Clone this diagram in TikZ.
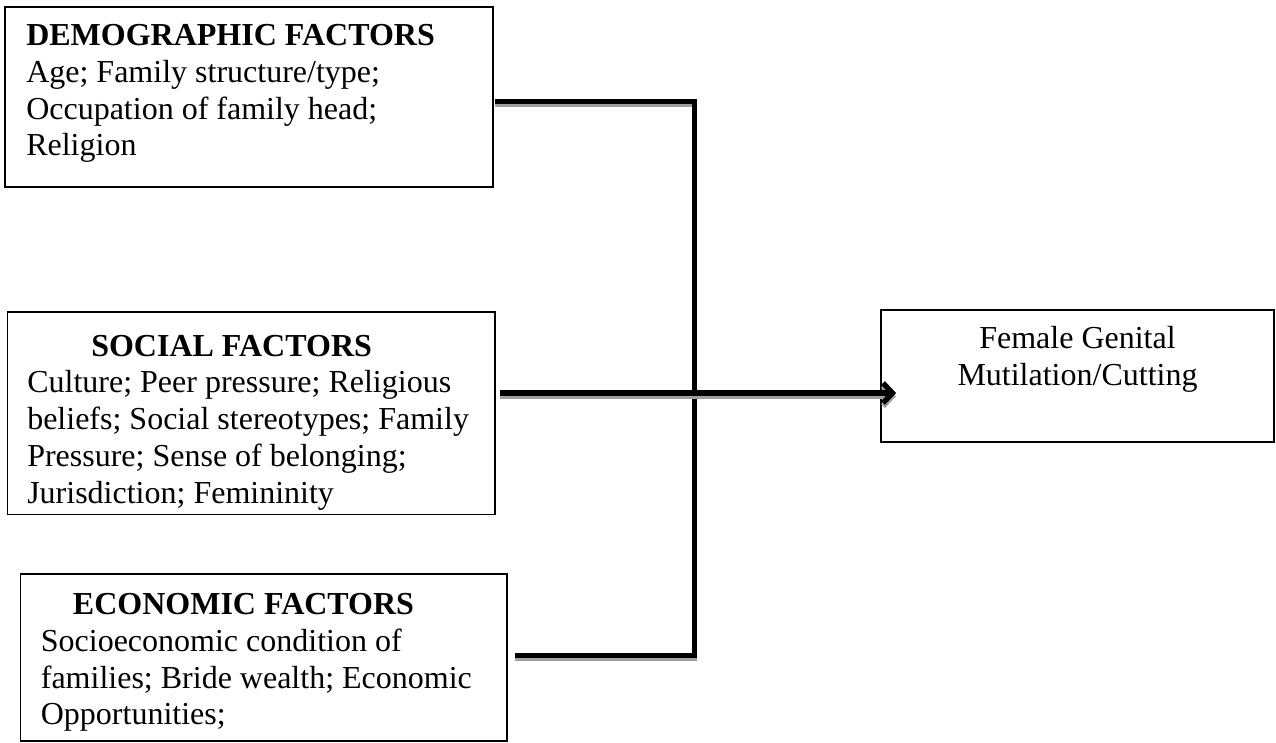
\documentclass[tikz,border=0pt]{standalone}
\usepackage{fontspec}
\setmainfont{Liberation Serif}
\usetikzlibrary{arrows.meta,fit}
\definecolor{shadowgray}{HTML}{A0A0A0}
\begin{document}
\begin{tikzpicture}[x=0.75pt,y=-0.75pt,
  box/.style={draw=black, line width=1.4pt, inner sep=0pt, outer sep=0pt},
  txt/.style={anchor=base west, inner sep=0pt, align=left, font=\fontsize{24}{27.6}\selectfont},
  ttl/.style={anchor=base west, inner sep=0pt, font=\fontsize{24}{27.6}\selectfont\bfseries},
  conn/.style={line width=4pt, line join=miter, draw=black,
    preaction={draw=shadowgray, line width=4pt, transform canvas={shift={(0pt,-2.4pt)}}}},
  tip/.style={-{Straight Barb[length=7pt,width=15pt]}},
]
\useasboundingbox (0,0) rectangle (1276,742);

% boxes
\node[box, fit={(5,7) (493,187)}] (demo) {};
\node[box, fit={(7.5,312) (495,514.5)}] (soc) {};
\node[box, fit={(20.5,574) (507,741)}] (eco) {};
\node[box, fit={(881,310) (1274,442)}] (fgm) {};

% texts (multi-line nodes are placed by the baseline of their last line)
\node[ttl] (demoT) at (26,45.7) {DEMOGRAPHIC FACTORS};
\node[txt] (demoB) at (26,155.8) {Age; Family structure/type;\\Occupation of family head;\\Religion};

\node[ttl] (socT) at (91,356) {SOCIAL FACTORS};
\node[txt] (socB) at (27,503.2) {Culture; Peer pressure; Religious\\beliefs; Social stereotypes; Family\\Pressure; Sense of belonging;\\Jurisdiction; Femininity};

\node[ttl] (ecoT) at (72.7,614.4) {ECONOMIC FACTORS};
\node[txt] (ecoB) at (40.6,724.8) {Socioeconomic condition of\\families; Bride wealth; Economic\\Opportunities;};

\node[txt, anchor=base, align=center] (fgmT) at (1077.5,385) {Female Genital\\Mutilation/Cutting};

% connector coordinates
\coordinate (topstart) at (495,101.5);
\coordinate (jtop) at (694.5,101.5);
\coordinate (jbot) at (694.5,655.5);
\coordinate (botstart) at (515,655.5);
\coordinate (midstart) at (500,393);
\coordinate (midend) at (896,393);

\draw[conn] (topstart) -- (jtop) -- (jbot) -- (botstart);
\draw[conn, tip] (midstart) -- (midend);
\end{tikzpicture}
\end{document}
